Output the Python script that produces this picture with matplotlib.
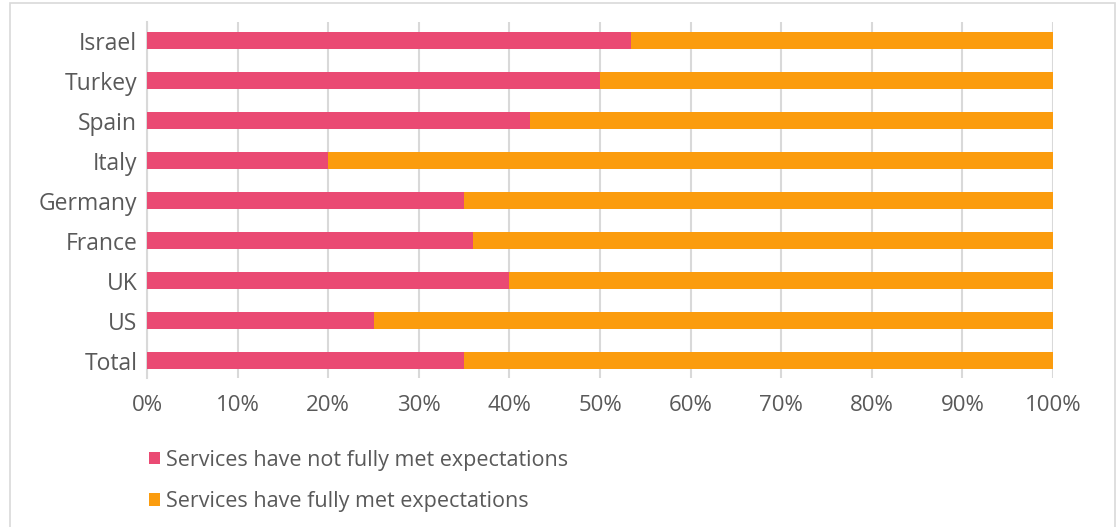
import matplotlib.pyplot as plt
from matplotlib.patches import Rectangle
from matplotlib.ticker import PercentFormatter

countries = ["Total", "US", "UK", "France", "Germany", "Italy", "Spain", "Turkey", "Israel"]
not_met = [35, 25, 40, 36, 35, 20, 42.3, 50, 53.4]
fully_met = [100 - v for v in not_met]

PINK = "#EA4A73"
ORANGE = "#FB9C0E"
TEXT = "#595959"
GRID = "#D9D9D9"

plt.rcParams["font.family"] = ["Open Sans", "DejaVu Sans"]

fig = plt.figure(figsize=(11.19, 5.27), dpi=100)
ax = fig.add_axes([147 / 1119, 1 - 378 / 527, (1053 - 147) / 1119, (378 - 22) / 527])

y = range(len(countries))
ax.barh(y, not_met, height=0.42, color=PINK, label="Services have not fully met expectations", zorder=3)
ax.barh(y, fully_met, left=not_met, height=0.42, color=ORANGE,
        label="Services have fully met expectations", zorder=3)

ax.set_xlim(0, 100)
ax.set_ylim(-0.43, 8.47)
ax.set_xticks(range(0, 101, 10))
ax.xaxis.set_major_formatter(PercentFormatter(decimals=0))
ax.set_yticks(list(y))
ax.set_yticklabels(countries)
ax.grid(axis="x", color=GRID, linewidth=1.5, zorder=0)
for s in ["top", "right", "bottom"]:
    ax.spines[s].set_visible(False)
ax.spines["left"].set_color(GRID)
ax.spines["left"].set_linewidth(1.5)
ax.tick_params(axis="x", length=0, labelsize=16, colors=TEXT, pad=12)
ax.tick_params(axis="y", length=0, labelsize=16.5, colors=TEXT, pad=7)

handles, labels = ax.get_legend_handles_labels()
fig.legend(handles, labels, loc="upper left", bbox_to_anchor=(140 / 1119, 1 - 441 / 527),
           frameon=False, fontsize=15.5, labelcolor=TEXT, handlelength=0.55, handleheight=0.55,
           handletextpad=0.25, labelspacing=0.95, borderaxespad=0)

fig.patches.append(Rectangle((10 / 1119, -0.01), 1105 / 1119, 1 - 3 / 527 + 0.01,
                             transform=fig.transFigure, fill=False, edgecolor=GRID, linewidth=1.2))

fig.savefig("out.png", dpi=100)
